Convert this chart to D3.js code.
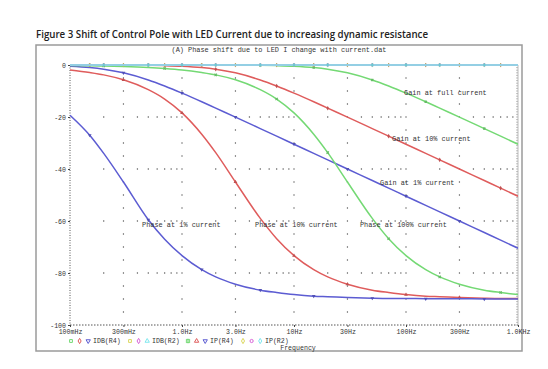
<!DOCTYPE html>
<html><head><meta charset="utf-8">
<script src="https://cdn.jsdelivr.net/npm/d3@7"></script>
<style>
html,body{margin:0;padding:0;background:#fff;}
svg{display:block;}
</style></head>
<body>
<svg id="chart" width="548" height="369"></svg>
<script>
// ---------------- data ----------------
const freqs = [0.1, 0.15, 0.2, 0.3, 0.5, 0.7, 1, 1.5, 2, 3, 5, 7, 10, 15, 20, 30, 50, 70, 100, 150, 200, 300, 500, 700, 1000];

// IDB(R4): gain (dB) at full, 10% and 1% current
const gainFull = [0, 0, 0, 0, -0.01, -0.01, -0.01, -0.01, -0.02, -0.04, -0.12, -0.24, -0.46, -0.97, -1.6, -3.01, -5.77, -8.09, -10.83, -14.15, -16.6, -20.04, -24.45, -27.36, -30.46];
const gain10   = [-0.01, -0.01, -0.02, -0.04, -0.12, -0.24, -0.46, -0.97, -1.6, -3.01, -5.77, -8.09, -10.83, -14.15, -16.6, -20.04, -24.45, -27.36, -30.46, -33.98, -36.48, -40.0, -44.44, -47.36, -50.46];
const gain1    = [-0.46, -0.97, -1.6, -3.01, -5.77, -8.09, -10.83, -14.15, -16.6, -20.04, -24.45, -27.36, -30.46, -33.98, -36.48, -40.0, -44.44, -47.36, -50.46, -53.98, -56.48, -60.0, -64.44, -67.36, -70.46];

// IP(R4): phase (deg) at full, 10% and 1% current
const phaseFull = [-0.19, -0.29, -0.38, -0.57, -0.95, -1.34, -1.9, -2.9, -3.8, -5.7, -9.5, -13.1, -18.4, -26.6, -33.7, -45, -59, -66.8, -73.3, -78.7, -81.5, -84.3, -86.6, -87.5, -88.3];
const phase10   = [-1.9, -2.9, -3.8, -5.7, -9.5, -13.1, -18.4, -26.6, -33.7, -45, -59, -66.8, -73.3, -78.7, -81.5, -84.3, -86.6, -87.5, -88.3, -88.9, -89.1, -89.4, -89.7, -89.8, -89.8];
const phase1    = [-19.3, -27, -34, -45, -59.5, -67, -73.3, -78.7, -81.5, -84.3, -86.6, -87.5, -88.3, -88.9, -89.1, -89.4, -89.7, -89.8, -89.8, -89.9, -89.9, -89.9, -90, -90, -90];

// IDB(R2) and IP(R2): flat at 0
const gainR2  = [0, 0, 0, 0, 0, 0, 0, 0, 0, 0, 0, 0, 0, 0, 0, 0, 0, 0, 0, 0, 0, 0, 0, 0, 0];
const phaseR2 = [0, 0, 0, 0, 0, 0, 0, 0, 0, 0, 0, 0, 0, 0, 0, 0, 0, 0, 0, 0, 0, 0, 0, 0, 0];

const xTickValues = [0.1, 0.3, 1, 3, 10, 30, 100, 300, 1000];
const xTickLabels = ["100mHz", "300mHz", "1.0Hz", "3.0Hz", "10Hz", "30Hz", "100Hz", "300Hz", "1.0KHz"];
const yTickValues = [0, -20, -40, -60, -80, -100];
const yTickLabels = ["0", "-20", "-40", "-60", "-80", "-100"];

const legendNames = ["IDB(R4)", "IDB(R2)", "IP(R4)", "IP(R2)"];
const annotations = [
  {text: "Gain at full current", f: 96, v: -11.5},
  {text: "Gain at 10% current", f: 75, v: -29.2},
  {text: "Gain at 1% current", f: 58.6, v: -46.2},
  {text: "Phase at 1% current", f: 0.44, v: -62.2},
  {text: "Phase at 10% current", f: 4.49, v: -62.2},
  {text: "Phase at 100% current", f: 38.8, v: -62.2}
];

const titleText = "Figure 3 Shift of Control Pole with LED Current due to increasing dynamic resistance";
const plotTitle = "(A) Phase shift due to LED I change with current.dat";
const xTitle = "Frequency";

// ---------------- styles ----------------
const C = {green: "#74d974", red: "#df5c5c", blue: "#5c5cd2", yellow: "#dcd860", magenta: "#d866d8", cyan: "#7ee8ef"};
const traces = [
  {vals: gainFull, col: C.green, sym: d3.symbolSquare, rot: 0, off: 1},
  {vals: gain10, col: C.red, sym: d3.symbolDiamond, rot: 0, off: 2},
  {vals: gain1, col: C.blue, sym: d3.symbolTriangle, rot: 180, off: 0},
  {vals: gainR2, col: C.yellow, sym: d3.symbolSquare, rot: 0, off: 0},
  {vals: gainR2, col: C.magenta, sym: d3.symbolDiamond, rot: 0, off: 1},
  {vals: gainR2, col: C.cyan, sym: d3.symbolTriangle, rot: 0, off: 2},
  {vals: phaseFull, col: C.green, sym: d3.symbolCross, rot: 45, off: 2},
  {vals: phase10, col: C.red, sym: d3.symbolTriangle, rot: 0, off: 0},
  {vals: phase1, col: C.blue, sym: d3.symbolTriangle, rot: 180, off: 1},
  {vals: phaseR2, col: C.yellow, sym: d3.symbolDiamond, rot: 0, off: 1},
  {vals: phaseR2, col: C.magenta, sym: d3.symbolCircle, rot: 0, off: 0},
  {vals: phaseR2, col: C.cyan, sym: d3.symbolDiamond, rot: 0, off: 2}
];
const legendSyms = [[0,1,2],[3,4,5],[6,7,8],[9,10,11]];

const svg = d3.select("#chart");
const L = 70, R = 518, T = 65, B = 325;
const x = d3.scaleLog().domain([0.1, 1000]).range([L, R]);
const y = d3.scaleLinear().domain([-100, 0]).range([B, T]);
const mono = "'Liberation Mono','DejaVu Sans Mono',monospace";

// title
svg.append("text").attr("x", 36).attr("y", 38)
  .attr("font-family", "'Open Sans', Lato, sans-serif").attr("font-weight", 600)
  .attr("font-size", 10.5).attr("fill", "#222")
  .attr("textLength", 392).attr("lengthAdjust", "spacingAndGlyphs")
  .text(titleText);

// outer frame
svg.append("rect").attr("x", 36).attr("y", 45).attr("width", 486).attr("height", 306)
  .attr("fill", "none").attr("stroke", "#9a9a9a").attr("stroke-width", 1.5);

svg.append("text").attr("x", 279).attr("y", 52).attr("text-anchor", "middle")
  .attr("font-family", mono).attr("font-size", 6.9).attr("fill", "#333")
  .attr("textLength", 215).attr("lengthAdjust", "spacingAndGlyphs")
  .text(plotTitle);

// grid dots
const grid = svg.append("g").attr("fill", "#555");
const minorF = x.ticks().filter(f => f > 0.1 && f < 1000);
[-20, -40, -60, -80].forEach(v => {
  minorF.forEach(f => grid.append("circle").attr("cx", x(f)).attr("cy", y(v)).attr("r", 0.7));
});
xTickValues.slice(1, -1).forEach(f => {
  d3.range(-95, 0, 5).forEach(v => {
    if (v % 20 !== 0) grid.append("circle").attr("cx", x(f)).attr("cy", y(v)).attr("r", 0.7);
  });
});

// plot borders
svg.append("line").attr("x1", L).attr("x2", L).attr("y1", T).attr("y2", B)
  .attr("stroke", "#555").attr("stroke-width", 1).attr("stroke-dasharray", "1,1.5");
svg.append("line").attr("x1", L).attr("x2", R).attr("y1", B).attr("y2", B)
  .attr("stroke", "#555").attr("stroke-width", 1).attr("stroke-dasharray", "1.5,1.5");
svg.append("line").attr("x1", R).attr("x2", R).attr("y1", T).attr("y2", B)
  .attr("stroke", "#bbb").attr("stroke-width", 1);
svg.append("line").attr("x1", L).attr("x2", R).attr("y1", T).attr("y2", T)
  .attr("stroke", "#bbb").attr("stroke-width", 1);
const rt = svg.append("g").attr("stroke", "#999").attr("stroke-width", 0.6);
d3.range(-100, 0, 1).forEach(v => {
  rt.append("line").attr("x1", R - 2).attr("x2", R).attr("y1", y(v)).attr("y2", y(v));
});

// axes
const xAxis = d3.axisBottom(x).tickValues(xTickValues)
  .tickFormat((d, i) => xTickLabels[i]).tickSize(2).tickPadding(3);
const gx = svg.append("g").attr("transform", `translate(0,${B})`).call(xAxis);
const yAxis = d3.axisLeft(y).tickValues(yTickValues)
  .tickFormat((d, i) => yTickLabels[i]).tickSize(2).tickPadding(2);
const gy = svg.append("g").attr("transform", `translate(${L},0)`).call(yAxis);
[gx, gy].forEach(g => {
  g.select(".domain").remove();
  g.selectAll("line").attr("stroke", "#444");
  g.selectAll("text").attr("font-family", mono).attr("font-size", 6.6).attr("fill", "#333");
});
gx.selectAll("text").attr("dy", "0.6em");

// traces
const clip = svg.append("clipPath").attr("id", "clip").append("rect")
  .attr("x", L).attr("y", T - 2).attr("width", R - L).attr("height", B - T + 4);
const plot = svg.append("g").attr("clip-path", "url(#clip)");
const line = d3.line().x((d, i) => x(freqs[i])).y(d => y(d)).curve(d3.curveMonotoneX);
traces.forEach(t => {
  plot.append("path").datum(t.vals).attr("d", line)
    .attr("fill", "none").attr("stroke", t.col).attr("stroke-width", 1.5);
  const step = t.vals === gainR2 || t.vals === phaseR2 ? 2 : 3;
  t.vals.forEach((v, i) => {
    if (i % step === t.off % step && i > 0 && i < freqs.length - 1) {
      plot.append("path").attr("d", d3.symbol(t.sym, 6)())
        .attr("transform", `translate(${x(freqs[i])},${y(v)}) rotate(${t.rot})`)
        .attr("fill", d3.color(t.col).darker(0.4)).attr("stroke", "none");
    }
  });
});

// annotations
annotations.forEach(a => {
  svg.append("text").attr("x", x(a.f)).attr("y", y(a.v))
    .attr("font-family", mono).attr("font-size", 6.9).attr("fill", "#333")
    .text(a.text);
});

// legend
const legendStarts = [71, 130, 188, 243];
legendNames.forEach((name, gi) => {
  const x0 = legendStarts[gi];
  legendSyms[gi].forEach((ti, k) => {
    const t = traces[ti];
    svg.append("path").attr("d", d3.symbol(t.sym, 8)())
      .attr("transform", `translate(${x0 + k * 8.6},341) rotate(${t.rot})`)
      .attr("fill", "none").attr("stroke", t.col).attr("stroke-width", 1);
  });
  svg.append("text").attr("x", x0 + 22).attr("y", 343.3)
    .attr("font-family", mono).attr("font-size", 6.6).attr("fill", "#333")
    .text(name);
});

svg.append("text").attr("x", 298).attr("y", 350).attr("text-anchor", "middle")
  .attr("font-family", mono).attr("font-size", 6.6).attr("fill", "#333")
  .text(xTitle);
</script>
</body></html>
